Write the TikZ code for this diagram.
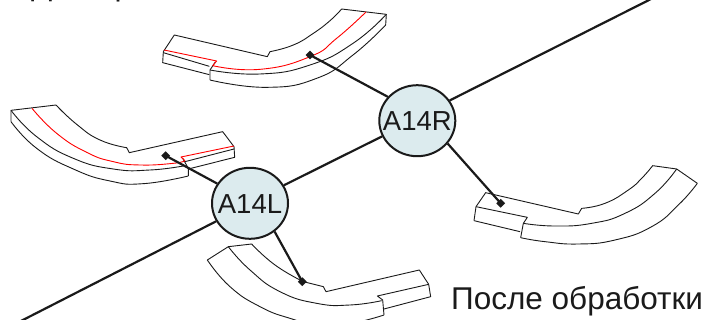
\documentclass[tikz,border=0pt]{standalone}
\usepackage{fontspec}
\setmainfont{Liberation Sans}
\usetikzlibrary{shapes.geometric}
\definecolor{hub}{HTML}{DCEBEE}
\definecolor{ink}{HTML}{1A1A1A}
\newcommand{\hublabel}[1]{\smash{\makebox[0pt]{\raisebox{-10pt}{#1}}}}
\tikzset{
  thin edge/.style={draw=ink,line width=0.9pt,line join=round},
  red edge/.style={draw=red,line width=0.9pt,line join=round},
  smooth edge/.style={smooth,tension=0.85},
  link/.style={draw=ink,line width=2.2pt},
  hubnode/.style={ellipse,draw=ink,line width=2pt,fill=hub,minimum width=76pt,minimum height=71pt,inner sep=0pt,text=ink,font=\fontsize{27.5}{27.5}\selectfont},
  pin/.style={diamond,fill=ink,minimum size=9pt,inner sep=0pt},
  caption/.style={anchor=base west,inner sep=0pt,text=ink,font=\fontsize{31.5}{31.5}\selectfont}
}
\begin{document}
\begin{tikzpicture}[x=1pt,y=-1pt]
\useasboundingbox (0,0) rectangle (706,320);
\clip (0,0) rectangle (706,320);

% top part
\begin{scope}[shift={(150,0)},scale=0.33333]
\draw[thin edge] (40,155) -- (73,105) -- (352,170) -- (360,155) plot[smooth edge] coordinates {(360,155)(430,135)(490,100)(540,62)(575,27)} -- (709,43) -- (707,75);
\draw[thin edge] plot[smooth edge] coordinates {(180,210)(330,222)(480,195)(609,130)(709,43)};
\draw[thin edge] plot[smooth edge] coordinates {(180,240)(350,262)(500,235)(609,165)(707,75)};
\draw[thin edge] (40,155) -- (38,188) -- (178,224);
\draw[thin edge] (40,158) -- (178,199);
\draw[thin edge] (196,186) -- (180,210) -- (180,240);
\draw[red edge] (42,150) -- (200,183) -- (188,197) plot[smooth edge] coordinates {(188,197)(330,208)(480,170)(560,115)(648,36)};
\end{scope}

% left part
\begin{scope}[shift={(0,95)},scale=0.33333]
\draw[thin edge] (33,80) -- (33,46) -- (168,30) plot[smooth edge] coordinates {(168,30)(230,88)(300,135)(380,158)} -- (388,173) -- (668,110) -- (702,155) -- (704,187) -- (565,222);
\draw[thin edge] plot[smooth edge] coordinates {(33,46)(110,125)(220,190)(340,222)(450,225)(555,212)};
\draw[thin edge] plot[smooth edge] coordinates {(33,80)(110,160)(220,222)(330,258)(430,266)(565,243)};
\draw[thin edge] (548,190) -- (565,220) -- (565,243);
\draw[thin edge] (555,200) -- (702,162);
\draw[red edge] plot[smooth edge] coordinates {(96,40)(170,115)(260,172)(340,200)(420,210)(520,205)(555,197)};
\draw[red edge] (555,197) -- (543,186) -- (702,153);
\end{scope}

% bottom part
\begin{scope}[shift={(200,235)},scale=0.33333]
\draw[thin edge] (22,75) -- (85,35) -- (155,27) plot[smooth edge] coordinates {(155,27)(225,90)(310,140)} -- (370,155) -- (378,170) -- (658,105) -- (686,148) -- (692,185) -- (552,222);
\draw[thin edge] plot[smooth edge] coordinates {(85,35)(150,105)(240,170)(350,205)(450,210)(545,197)};
\draw[thin edge] plot[smooth edge] coordinates {(22,75)(90,155)(180,215)(270,250)(350,268)(450,265)(552,240)};
\draw[thin edge] (686,148) -- (532,183) -- (548,195) -- (552,240);
\end{scope}

% right part
\begin{scope}[shift={(465,155)},scale=0.33333]
\draw[thin edge] (27,197) -- (33,155) -- (62,113) -- (340,177) -- (350,160) plot[smooth edge] coordinates {(350,160)(420,145)(490,105)(530,70)(563,32)} -- (635,42) -- (697,85);
\draw[thin edge] plot[smooth edge] coordinates {(635,42)(570,115)(480,175)(380,205)(270,213)(175,205)};
\draw[thin edge] plot[smooth edge] coordinates {(697,85)(640,150)(560,215)(450,255)(340,267)(240,260)(167,248)};
\draw[thin edge] (33,155) -- (187,187) -- (175,205) -- (167,248);
\draw[thin edge] (27,197) -- (165,230);
\end{scope}

% hubs
\node[hubnode] (R) at (417.3,120.7) {\hublabel{A14R}};
\node[hubnode] (L) at (250,203.3) {\hublabel{A14L}};

% pins
\node[pin] (p1) at (310,55) {};
\node[pin] (p2) at (165.7,155.7) {};
\node[pin] (p3) at (302.3,281.7) {};
\node[pin] (p4) at (500.7,203.3) {};
\coordinate (axisTop) at (653,-2);
\coordinate (axisBottom) at (19,322);

% connectors
\draw[link] (R.141) -- (p1.center);
\draw[link] (R.-37) -- (p4.center);
\draw[link] (L.149) -- (p2.center);
\draw[link] (L.-49) -- (p3.center);
\draw[link] (R.32) -- (axisTop);
\draw[link] (R.204) -- (L.28);
\draw[link] (L.208) -- (axisBottom);

% captions
\node[caption] (after) at (451,309) {После обработки};
\node[caption] (before) at (31,-4) {До обработки};
\end{tikzpicture}
\end{document}
